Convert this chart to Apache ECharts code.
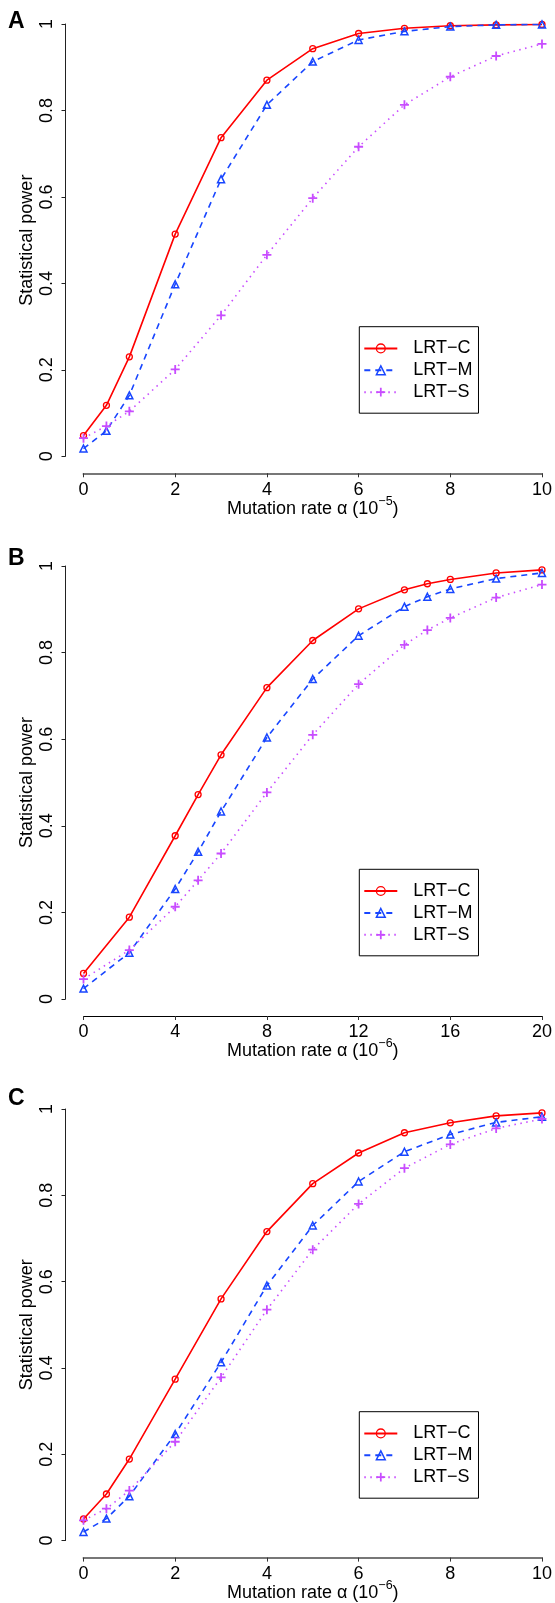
<!DOCTYPE html>
<html>
<head>
<meta charset="utf-8">
<script src="https://cdn.jsdelivr.net/npm/echarts@6/dist/echarts.min.js"></script>
<style>
html,body{margin:0;padding:0;background:#fff;}
#chart{width:555px;height:1603px;}
</style>
</head>
<body>
<div id="chart"></div>
<script>
// ---- data ----
const seriesNames = ['LRT−C', 'LRT−M', 'LRT−S'];
const panelLabels = ['A', 'B', 'C'];
const xTitleExp = ['−5', '−6', '−6'];
const yTicks = [0, 0.2, 0.4, 0.6, 0.8, 1];

const xA = [0, 0.5, 1, 2, 3, 4, 5, 6, 7, 8, 9, 10];
const aC = [0.048, 0.118, 0.230, 0.514, 0.737, 0.870, 0.943, 0.978, 0.990, 0.996, 0.998, 0.999];
const aM = [0.018, 0.059, 0.141, 0.398, 0.641, 0.813, 0.913, 0.963, 0.983, 0.994, 0.998, 0.999];
const aS = [0.042, 0.070, 0.104, 0.201, 0.326, 0.466, 0.597, 0.716, 0.813, 0.878, 0.926, 0.954];

const xB = [0, 2, 4, 5, 6, 8, 10, 12, 14, 15, 16, 18, 20];
const bC = [0.059, 0.189, 0.377, 0.472, 0.564, 0.719, 0.828, 0.901, 0.945, 0.959, 0.969, 0.984, 0.991];
const bM = [0.024, 0.107, 0.254, 0.340, 0.433, 0.604, 0.739, 0.839, 0.906, 0.929, 0.947, 0.971, 0.984];
const bS = [0.046, 0.113, 0.213, 0.274, 0.336, 0.477, 0.610, 0.727, 0.818, 0.852, 0.880, 0.927, 0.957];

const xC = [0, 0.5, 1, 2, 3, 4, 5, 6, 7, 8, 9, 10];
const cC = [0.050, 0.108, 0.189, 0.374, 0.560, 0.716, 0.827, 0.898, 0.945, 0.968, 0.984, 0.991];
const cM = [0.020, 0.051, 0.103, 0.247, 0.413, 0.591, 0.730, 0.832, 0.901, 0.941, 0.969, 0.982];
const cS = [0.047, 0.074, 0.116, 0.229, 0.378, 0.535, 0.674, 0.780, 0.863, 0.918, 0.955, 0.977];

const xMax = [10, 20, 10];
const xStep = [2, 4, 2];

// ---- styling / layout ----
const FONT = 'Liberation Sans, Arial, Helvetica, sans-serif';
const FS = 18;
const RED = '#ff0000', BLUE = '#1846ff', PURPLE = '#c84cff';
const PLUS = 'path://M4,0H6V4H10V6H6V10H4V6H0V4H4Z';
const gridTop = [24, 566, 1109];
const gridH = [432.3, 433, 432.5];
const xLineColor = ['#777', '#000', '#777'];
const xLineWidth = [2, 1, 2];
const legendTop = [326.7, 869.3, 1411.7];
const titleTop = [10, 547, 1087];

const styles = [
  {symbol: 'circle', symbolSize: 6,
   itemStyle: {color: 'rgba(0,0,0,0)', borderColor: RED, borderWidth: 1.3},
   lineStyle: {color: RED, width: 1.6, type: 'solid'}},
  {symbol: 'triangle', symbolSize: 7,
   itemStyle: {color: 'rgba(0,0,0,0)', borderColor: BLUE, borderWidth: 1.5},
   lineStyle: {color: BLUE, width: 1.6, type: [6, 5]}},
  {symbol: PLUS, symbolSize: 9,
   itemStyle: {color: PURPLE, borderWidth: 0},
   lineStyle: {color: PURPLE, width: 1.6, type: [1.5, 4.5]}}
];

const panels = [
  {x: xA, ys: [aC, aM, aS]},
  {x: xB, ys: [bC, bM, bS]},
  {x: xC, ys: [cC, cM, cS]}
];

const grid = [], xAxis = [], yAxis = [], series = [], legend = [], title = [];
panels.forEach((p, gi) => {
  grid.push({left: 83.5, right: 12.5, top: gridTop[gi], height: gridH[gi], containLabel: false});
  title.push({text: panelLabels[gi], left: 8, top: titleTop[gi], padding: 0,
    textStyle: {fontFamily: FONT, fontSize: 23, fontWeight: 'bold', color: '#000'}});
  xAxis.push({
    type: 'value', gridIndex: gi, min: 0, max: xMax[gi], interval: xStep[gi], offset: 17,
    splitLine: {show: false},
    axisLine: {show: true, onZero: false, lineStyle: {color: xLineColor[gi], width: xLineWidth[gi]}},
    axisTick: {show: true, length: 4, lineStyle: {color: '#333'}},
    axisLabel: {fontFamily: FONT, fontSize: FS, color: '#000', margin: 7.5, showMinLabel: true, showMaxLabel: true},
    name: '{a|Mutation rate α (10}{s|' + xTitleExp[gi] + '}{a|)}',
    nameLocation: 'middle', nameGap: 21.4, nameMoveOverlap: false,
    nameTextStyle: {rich: {
      a: {fontFamily: FONT, fontSize: FS, color: '#000', lineHeight: 28},
      s: {fontFamily: FONT, fontSize: 12.5, color: '#000', lineHeight: 13, verticalAlign: 'top'}
    }}
  });
  yAxis.push({
    type: 'value', gridIndex: gi, min: 0, max: 1, interval: 0.2, offset: 18,
    splitLine: {show: false},
    axisLine: {show: true, onZero: false, lineStyle: {color: '#222', width: 1}},
    axisTick: {show: true, length: 4, lineStyle: {color: '#222'}},
    axisLabel: {fontFamily: FONT, fontSize: FS, color: '#000', rotate: 90, margin: 9,
      formatter: v => String(yTicks.find(t => Math.abs(t - v) < 1e-9) ?? v)},
    name: 'Statistical power', nameLocation: 'middle', nameRotate: 90, nameGap: 29, nameMoveOverlap: false,
    nameTextStyle: {fontFamily: FONT, fontSize: FS, color: '#000'}
  });
  p.ys.forEach((ys, si) => {
    const st = styles[si];
    series.push({
      type: 'line', name: seriesNames[si], xAxisIndex: gi, yAxisIndex: gi,
      data: p.x.map((x, i) => [x, ys[i]]),
      symbol: st.symbol, symbolSize: st.symbolSize, showAllSymbol: true,
      itemStyle: st.itemStyle, lineStyle: st.lineStyle,
      emphasis: {disabled: true}, silent: true, animation: false, z: 3 + si
    });
  });
  legend.push({
    orient: 'vertical', left: 359.3, top: legendTop[gi],
    padding: [12.7, 6, 12, 4], itemWidth: 33, itemHeight: 11, itemGap: 3.9,
    borderColor: '#000', borderWidth: 1, backgroundColor: '#fff',
    selectedMode: false,
    data: seriesNames.map((n, si) => ({name: n, itemStyle: {borderWidth: si === 2 ? 0 : styles[si].itemStyle.borderWidth}})),
    formatter: n => '{t|' + n + '}',
    textStyle: {rich: {t: {fontFamily: FONT, fontSize: FS, color: '#000', padding: [0, 0, 0, 11]}}}
  });
});

const chart = echarts.init(document.getElementById('chart'), null, {renderer: 'canvas'});
chart.setOption({
  backgroundColor: '#fff',
  animation: false,
  title, grid, xAxis, yAxis, series, legend
});
</script>
</body>
</html>
